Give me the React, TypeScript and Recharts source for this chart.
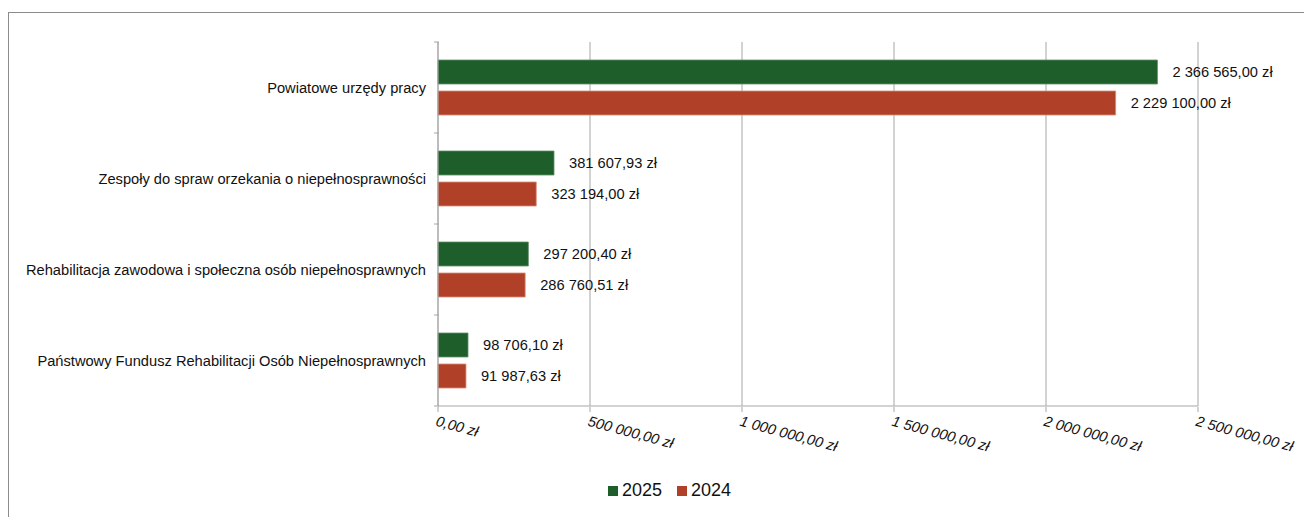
import React from "react"
import {
  Bar,
  BarChart,
  CartesianGrid,
  LabelList,
  XAxis,
  YAxis,
} from "recharts"

const categories = [
  "Powiatowe urzędy pracy",
  "Zespoły do spraw orzekania o niepełnosprawności",
  "Rehabilitacja zawodowa i społeczna osób niepełnosprawnych",
  "Państwowy Fundusz Rehabilitacji Osób Niepełnosprawnych",
]
const values2025 = [2366565.0, 381607.93, 297200.4, 98706.1]
const values2024 = [2229100.0, 323194.0, 286760.51, 91987.63]
const xTicks = [0, 500000, 1000000, 1500000, 2000000, 2500000]

const GREEN = "#1e5e2b"
const RED = "#b04128"
const FONT = "'Liberation Sans', Arial, sans-serif"
const FS = 14.67

const W = 1303
const H = 504
const MARGIN = { top: 29, right: 114, left: 0, bottom: 41 }
const X_AXIS_H = 70
const BAND = (H - MARGIN.top - MARGIN.bottom - X_AXIS_H) / categories.length

const data = categories.map((name, i) => ({
  name,
  y2025: values2025[i],
  y2024: values2024[i],
}))

const fmt = (v: number) => {
  const [int, dec] = v.toFixed(2).split(".")
  return int.replace(/\B(?=(\d{3})+(?!\d))/g, " ") + "," + dec + " zł"
}

const XTick = (props: any) => {
  const { x, y, payload } = props
  return (
    <g transform={`translate(${x},${y})`}>
      <line x1={0} y1={-7} x2={0} y2={-2} stroke="#a6a6a6" />
      <text
        x={0}
        y={12}
        transform="rotate(15)"
        textAnchor="start"
        fontStyle="italic"
        fontSize={FS}
        fontFamily={FONT}
        fill="#111"
      >
        {fmt(payload.value)}
      </text>
    </g>
  )
}

const YTick = (props: any) => {
  const { x, y, payload, index } = props
  const last = index === categories.length - 1
  return (
    <g>
      <line x1={x + 15} y1={y - BAND / 2} x2={x + 20} y2={y - BAND / 2} stroke="#a6a6a6" />
      {last && (
        <line x1={x + 15} y1={y + BAND / 2} x2={x + 20} y2={y + BAND / 2} stroke="#a6a6a6" />
      )}
      <text
        x={x + 7}
        y={y}
        dy={5}
        textAnchor="end"
        fontSize={FS}
        fontFamily={FONT}
        fill="#111"
      >
        {payload.value}
      </text>
    </g>
  )
}

const legendItems = [
  { label: "2025", color: GREEN },
  { label: "2024", color: RED },
]

export default function App() {
  return (
    <div style={{ width: 1304, height: 505, marginTop: 4, overflow: "hidden" }}>
      <div
        style={{
          position: "relative",
          width: 1400,
          height: 600,
          borderLeft: "1px solid #8c8c8c",
          borderTop: "1px solid #8c8c8c",
        }}
      >
        <BarChart
          width={W}
          height={H}
          data={data}
          layout="vertical"
          margin={MARGIN}
          barCategoryGap={18}
          barGap={7}
        >
          <CartesianGrid horizontal={false} stroke="#a6a6a6" />
          <XAxis
            type="number"
            domain={[0, 2500000]}
            ticks={xTicks}
            height={X_AXIS_H}
            axisLine={{ stroke: "#a6a6a6" }}
            tickLine={false}
            tick={<XTick />}
            interval={0}
          />
          <YAxis
            type="category"
            dataKey="name"
            width={429}
            axisLine={{ stroke: "#a6a6a6" }}
            tickLine={false}
            tick={<YTick />}
            tickMargin={13}
            interval={0}
          />
          <Bar dataKey="y2025" fill={GREEN} stroke="#5f8f66" strokeWidth={0.8} isAnimationActive={false}>
            <LabelList
              dataKey="y2025"
              position="right"
              offset={15}
              formatter={(v: any) => fmt(Number(v))}
              style={{ fontSize: FS, fontFamily: FONT, fill: "#111" }}
            />
          </Bar>
          <Bar dataKey="y2024" fill={RED} stroke="#d98a78" strokeWidth={0.8} isAnimationActive={false}>
            <LabelList
              dataKey="y2024"
              position="right"
              offset={15}
              formatter={(v: any) => fmt(Number(v))}
              style={{ fontSize: FS, fontFamily: FONT, fill: "#111" }}
            />
          </Bar>
        </BarChart>
        <div
          style={{
            position: "absolute",
            left: 9,
            width: W,
            top: 467,
            display: "flex",
            justifyContent: "center",
            gap: 15,
            fontFamily: FONT,
            fontSize: 18,
            color: "#111",
          }}
        >
          {legendItems.map((it) => (
            <span key={it.label} style={{ display: "flex", alignItems: "center", gap: 4 }}>
              <span style={{ width: 10, height: 10, background: it.color, display: "inline-block" }} />
              {it.label}
            </span>
          ))}
        </div>
      </div>
    </div>
  )
}
